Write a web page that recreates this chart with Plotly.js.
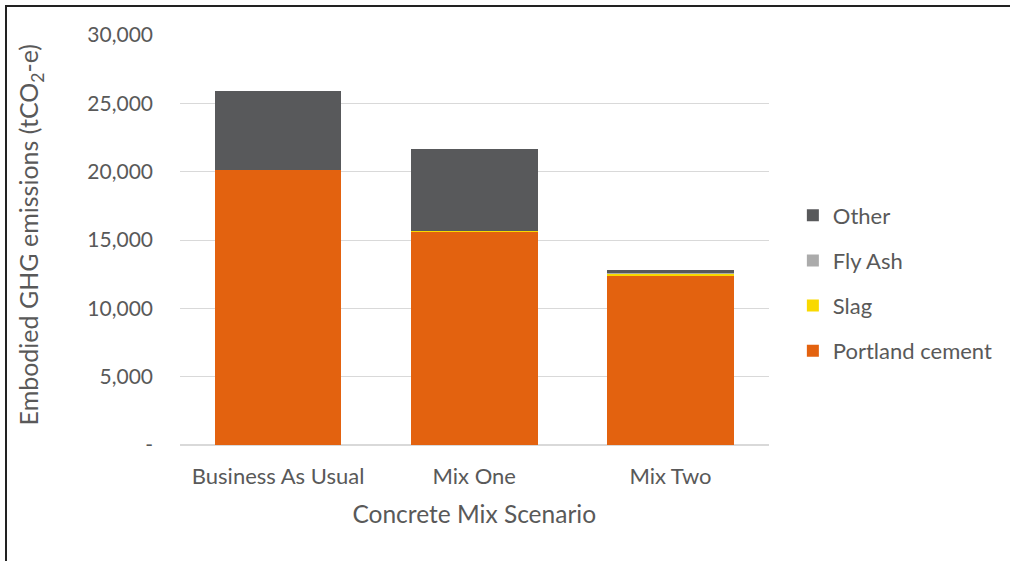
<!DOCTYPE html>
<html>
<head>
<meta charset="utf-8">
<script src="https://cdn.plot.ly/plotly-3.0.1.min.js"></script>
<style>
  html, body { margin: 0; padding: 0; background: #ffffff; }
  #wrap { position: relative; width: 1010px; height: 561px; }
  #chart { width: 1010px; height: 561px; }
  #frame { position: absolute; left: 5px; top: 5px; right: 0; bottom: 0;
           border-left: 2px solid #222; border-top: 2px solid #222; pointer-events: none; }
</style>
</head>
<body>
<div id="wrap">
  <div id="chart"></div>
  <div id="frame"></div>
</div>
<script>
// Concrete mix scenarios and embodied emissions by component (tCO2-e)
const scenarios = ["Business As Usual", "Mix One", "Mix Two"];
const portlandCement = [20100, 15550, 12360];
const slag = [0, 80, 150];
const flyAsh = [0, 0, 70];
const other = [5800, 6020, 220];

const yTickVals = [0, 5000, 10000, 15000, 20000, 25000, 30000];
const yTickText = ["-", "5,000", "10,000", "15,000", "20,000", "25,000", "30,000"];

const FONT = "Lato, 'Open Sans', sans-serif";
const TEXT = "#595959";

function barTrace(name, values, color, rank) {
  return {
    type: "bar",
    name: name,
    x: scenarios,
    y: values,
    legendgroup: name,
    legendrank: rank,
    marker: { color: color, line: { width: 0 } },
    hoverinfo: "x+y+name"
  };
}

// stacked bottom to top; legend lists the top segment first
const data = [
  barTrace("Portland cement", portlandCement, "#E3620F", 4),
  barTrace("Slag", slag, "#F9D900", 3),
  barTrace("Fly Ash", flyAsh, "#ABABAB", 2),
  barTrace("Other", other, "#58595B", 1)
];

// paper spans x 180..980 px; plot area occupies 180..770 px
const layout = {
  width: 1010,
  height: 561,
  barmode: "stack",
  bargap: 0.354,
  paper_bgcolor: "#ffffff",
  plot_bgcolor: "#ffffff",
  font: { family: FONT, color: TEXT, size: 20 },
  margin: { l: 180, r: 30, t: 35, b: 116, pad: 0 },
  showlegend: true,
  legend: {
    x: 0.768, xanchor: "left",
    y: 0.395, yanchor: "middle",
    traceorder: "grouped",
    tracegroupgap: 13.5,
    font: { family: FONT, size: 22, color: TEXT },
    bgcolor: "rgba(0,0,0,0)"
  },
  xaxis: {
    type: "category",
    domain: [0, 0.7375],
    showgrid: false,
    showline: false,
    ticks: "",
    ticklabelstandoff: 16,
    tickfont: { family: FONT, size: 22, color: TEXT },
    title: { text: "Concrete Mix Scenario", font: { family: FONT, size: 24.5, color: TEXT }, standoff: 17 },
    automargin: false
  },
  yaxis: {
    range: [0, 30000],
    tickmode: "array",
    tickvals: yTickVals,
    ticktext: yTickText,
    showgrid: true,
    gridcolor: "#D9D9D9",
    gridwidth: 1,
    zeroline: true,
    zerolinecolor: "#D9D9D9",
    zerolinewidth: 2,
    showline: false,
    ticks: "",
    ticklabelstandoff: 26,
    tickfont: { family: FONT, size: 21, color: TEXT },
    automargin: false
  },
  annotations: [{
    text: "Embodied GHG emissions (tCO<sub>2</sub>-e)",
    xref: "paper", yref: "paper",
    x: -0.1875, y: 0.512,
    xanchor: "center", yanchor: "middle",
    textangle: -90,
    showarrow: false,
    font: { family: FONT, size: 25, color: TEXT }
  }]
};

Plotly.newPlot("chart", data, layout, { displayModeBar: false, staticPlot: true });
</script>
</body>
</html>
